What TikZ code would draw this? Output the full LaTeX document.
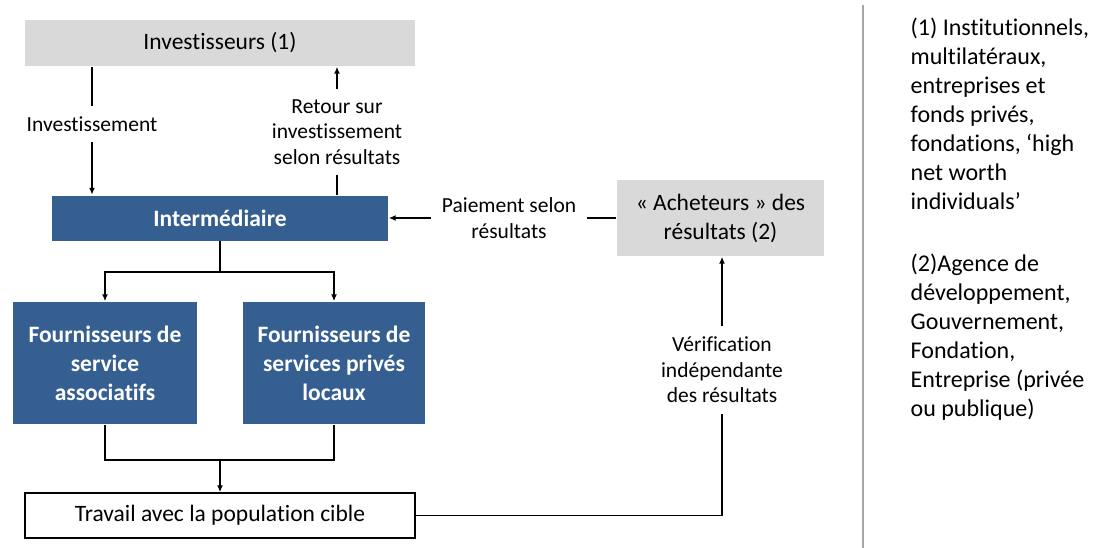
\documentclass[tikz,border=0pt]{standalone}
\usepackage{fontspec}
\setmainfont{Carlito}[Ligatures=NoCommon]
\usetikzlibrary{arrows.meta}
\definecolor{boxblue}{HTML}{365F91}
\definecolor{boxgray}{HTML}{D9D9D9}
\begin{document}
\begin{tikzpicture}[x=1pt, y=-1pt, >={Latex[length=7pt,width=6pt]}, line width=1.4pt,
    graybox/.style={fill=boxgray, inner sep=0pt, align=center, font=\fontsize{23.5}{29}\selectfont},
    bluebox/.style={fill=boxblue, text=white, inner sep=0pt, align=center, font=\fontsize{23.5}{29}\selectfont\bfseries},
    whitebox/.style={draw, fill=white, inner sep=0pt, font=\fontsize{23.5}{29}\selectfont},
    lbl/.style={align=center, inner sep=10pt, font=\fontsize{21.5}{25.5}\selectfont}]
        \useasboundingbox (0,0) rectangle (1094,548);

        \node[graybox, minimum width=390pt, minimum height=46pt] (inv) at (220,43) {Investisseurs (1)};
        \node[bluebox, minimum width=336pt, minimum height=45pt] (inter) at (220,218) {Intermédiaire};
        \node[graybox, minimum width=207pt, minimum height=76pt] (ach) at (720.5,218) {« Acheteurs » des\\résultats (2)};
        \node[bluebox, minimum width=184pt, minimum height=122pt] (asso) at (105,363) {Fournisseurs de\\service\\associatifs};
        \node[bluebox, minimum width=182pt, minimum height=122pt] (prive) at (334,363) {Fournisseurs de\\services privés\\locaux};
        \node[whitebox, minimum width=390pt, minimum height=45pt] (trav) at (220,515.5) {Travail avec la population cible};

        \node[lbl] (linv) at (92,124) {Investissement};
        \node[lbl] (lret) at (337,132) {Retour sur\\investissement\\selon résultats};
        \node[lbl] (lpai) at (509,218) {Paiement selon\\résultats};
        \node[lbl] (lver) at (722,370) {Vérification\\indépendante\\des résultats};

        \draw (inv.south -| linv) -- (linv.north);
        \draw[->] (linv.south) -- (inter.north -| linv);
        \draw (inter.north -| lret) -- (lret.south);
        \draw[->] (lret.north) -- (inv.south -| lret);
        \draw[->] (lpai.west) -- (inter.east);
        \draw (ach.west) -- (lpai.east);
        \draw (trav.east) -| (lver.south);
        \draw[->] (lver.north) -- (ach.south -| lver);

        \coordinate (split) at (220,272);
        \draw (inter.south) -- (split);
        \draw[->] (split) -| (asso.north);
        \draw[->] (split) -| (prive.north);

        \coordinate (merge) at (220,460);
        \draw (asso.south) |- (merge) -| (prive.south);
        \draw[->, line width=2.2pt] (merge) -- (trav.north);

        \coordinate (septop) at (863,5);
        \coordinate (sepbot) at (863,548);
        \draw[gray!70, line width=1.5pt] (septop) -- (sepbot);

        \node[anchor=north west, inner sep=0pt, align=left, font=\fontsize{24}{29}\selectfont] (notes) at (910,17) {(1) Institutionnels,\\multilatéraux,\\entreprises et\\fonds privés,\\fondations, ‘high\\net worth\\individuals’\\[33pt](2)Agence de\\développement,\\Gouvernement,\\Fondation,\\Entreprise (privée\\ou publique)};
    \end{tikzpicture}
\end{document}
